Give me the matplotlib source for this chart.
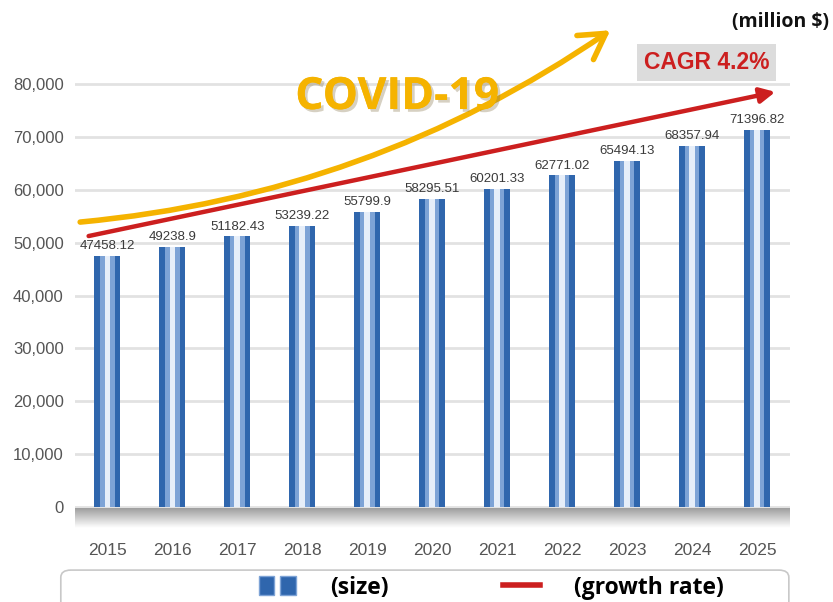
import matplotlib
matplotlib.use("Agg")
import matplotlib.pyplot as plt
import matplotlib.patheffects as pe
from matplotlib.patches import FancyBboxPatch, Patch
from matplotlib.lines import Line2D
from matplotlib.legend_handler import HandlerTuple
import numpy as np

years = ["2015", "2016", "2017", "2018", "2019", "2020", "2021", "2022", "2023", "2024", "2025"]
market_size = [47458.12, 49238.9, 51182.43, 53239.22, 55799.9, 58295.51,
               60201.33, 62771.02, 65494.13, 68357.94, 71396.82]
y_ticks = [0, 10000, 20000, 30000, 40000, 50000, 60000, 70000, 80000]
cagr_label = "CAGR 4.2%"
unit_label = "(million $)"

NARROW = ["Liberation Sans", "DejaVu Sans"]
BOLD = ["Open Sans", "DejaVu Sans"]
BAR_DARK = "#2f66ad"
BAR_MID = "#7da3d6"
BAR_LIGHT = "#e6eef9"
RED = "#cc1f1f"
GOLD = "#f5b300"

fig = plt.figure(figsize=(8.33, 6.02), dpi=100)
ax = fig.add_axes([0.09, 0.1229, 0.858, 0.7724])
x = np.arange(len(years))

# bars: dark body with lighter centre stripe to mimic the glossy look
ax.bar(x, market_size, width=0.4, color=BAR_DARK, zorder=3)
ax.bar(x, market_size, width=0.22, color=BAR_MID, zorder=3)
ax.bar(x, market_size, width=0.09, color=BAR_LIGHT, zorder=3)
for xi, v in zip(x, market_size):
    ax.text(xi, v + 700, str(v), ha="center", va="bottom", fontsize=9.5,
            color="#3a3a3a", family=NARROW, zorder=4)

ax.set_xlim(-0.5, 10.5)
ax.set_ylim(-4000, 84000)
ax.set_yticks(y_ticks)
ax.set_yticklabels([f"{t:,}" for t in y_ticks], family=NARROW, fontsize=12, color="#555555")
ax.set_xticks(x)
ax.set_xticklabels(years, family=NARROW, fontsize=12.5, color="#555555")
ax.tick_params(length=0, pad=8)
ax.tick_params(axis="x", pad=11)
for s in ax.spines.values():
    s.set_visible(False)
ax.grid(axis="y", color="#e2e2e2", lw=2, zorder=0)

# grey gradient floor under zero
grad = np.linspace(0.62, 1.0, 64).reshape(-1, 1)
ax.imshow(grad, cmap="gray", vmin=0, vmax=1, aspect="auto", origin="upper",
          extent=(-0.5, 10.5, -4000, -300), zorder=2)

# CAGR growth arrow (red)
ax.annotate("", xy=(10.28, market_size[-1] * 1.1), xytext=(-0.29, market_size[0] * 1.08),
            arrowprops=dict(arrowstyle="-|>,head_length=0.6,head_width=0.3", color=RED,
                            lw=3.2, mutation_scale=15, shrinkA=0, shrinkB=0),
            zorder=5)

# COVID-19 curved arrow (yellow)
ax.annotate("", xy=(7.74, 90200), xytext=(-0.42, 53900), annotation_clip=False,
            arrowprops=dict(arrowstyle="->,head_length=0.6,head_width=0.35", color=GOLD,
                            lw=4, mutation_scale=30, shrinkA=0, shrinkB=0,
                            connectionstyle="arc3,rad=0.13"),
            zorder=6)
fig.text(0.477, 0.838, "COVID-19", fontsize=32, fontweight="bold", color=GOLD,
         family=BOLD, ha="center", va="center",
         path_effects=[pe.withSimplePatchShadow(offset=(2, -2), shadow_rgbFace="#8a7a50", alpha=0.35),
                       pe.Normal()])

# CAGR box and unit label
fig.text(0.848, 0.896, cagr_label, fontsize=16.5, fontweight="bold", color=RED, family=NARROW,
         ha="center", va="center",
         bbox=dict(boxstyle="square,pad=0.3", fc="#dcdcdc", ec="none"))
fig.text(0.995, 0.963, unit_label, fontsize=14, fontweight="bold", color="#111111",
         family=BOLD, ha="right", va="center")

# legend frame and entries
frame = FancyBboxPatch((0.073, -0.02), 0.874, 0.073, transform=fig.transFigure,
                       boxstyle="round,pad=0,rounding_size=0.012", fc="white",
                       ec="#c8c8c8", lw=1.2)
fig.patches.append(frame)
size_handle = (Patch(facecolor=BAR_DARK, edgecolor=BAR_MID, lw=1),
               Patch(facecolor=BAR_DARK, edgecolor=BAR_MID, lw=1))
growth_handle = Line2D([0], [0], color=RED, lw=4)
fig.legend([size_handle, growth_handle], ["(size)", "(growth rate)"], loc="center",
           bbox_to_anchor=(0.59, 0.024), ncol=2, frameon=False, columnspacing=5.0,
           handlelength=1.6, handleheight=0.9, handletextpad=1.5,
           handler_map={tuple: HandlerTuple(ndivide=2, pad=0.25)},
           prop=dict(family=BOLD, weight="bold", size=16.5))

fig.savefig("out.png", dpi=100)
